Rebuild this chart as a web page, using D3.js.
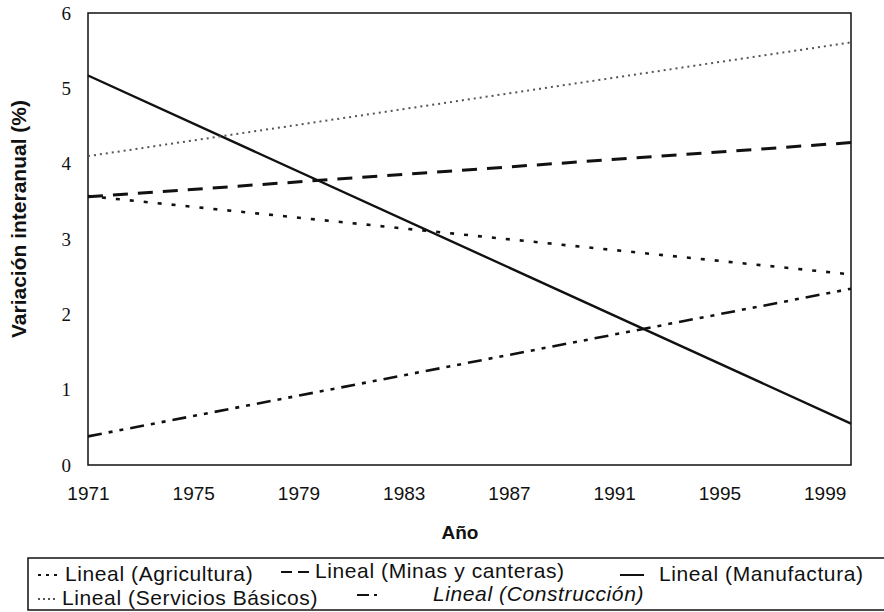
<!DOCTYPE html>
<html>
<head>
<meta charset="utf-8">
<script src="https://cdn.jsdelivr.net/npm/d3@7"></script>
<style>
  body { margin: 0; background: #fff; }
  svg { display: block; }
</style>
</head>
<body>
<div id="chart"></div>
<script>
// trend lines (linear fits), value at the first and last year
var years = [1971, 2000];
var agricultura = [3.57, 2.53];
var minas = [3.56, 4.28];
var manufactura = [5.17, 0.55];
var servicios = [4.10, 5.61];
var construccion = [0.38, 2.34];

var tickYears = [1971, 1975, 1979, 1983, 1987, 1991, 1995, 1999];
var tickValues = [0, 1, 2, 3, 4, 5, 6];

var series = [
  { name: "Lineal (Agricultura)", values: agricultura, dash: "4,10", width: 2.6, color: "#111" },
  { name: "Lineal (Minas y canteras)", values: minas, dash: "15,10", width: 3, color: "#111" },
  { name: "Lineal (Manufactura)", values: manufactura, dash: null, width: 2.4, color: "#111" },
  { name: "Lineal (Servicios Básicos)", values: servicios, dash: "2,4", width: 2, color: "#555" },
  { name: "Lineal (Construcción)", values: construccion, dash: "14,7,4,7,4,7", width: 2.6, color: "#111" }
];

var width = 884, height = 612;
var plot = { left: 88, right: 851, top: 13, bottom: 465 };

var svg = d3.select("#chart").append("svg")
    .attr("width", width)
    .attr("height", height);

var x = d3.scaleLinear().domain([1971, 2000]).range([plot.left, plot.right]);
var y = d3.scaleLinear().domain([0, 6]).range([plot.bottom, plot.top]);

// frame
svg.append("rect")
    .attr("x", plot.left)
    .attr("y", plot.top)
    .attr("width", plot.right - plot.left)
    .attr("height", plot.bottom - plot.top)
    .attr("fill", "none")
    .attr("stroke", "#111")
    .attr("stroke-width", 1.5);

// y axis
var yAxis = svg.append("g")
    .attr("transform", "translate(" + plot.left + ",0)")
    .call(d3.axisLeft(y).tickValues(tickValues).tickSize(0).tickPadding(17).tickFormat(d3.format("d")));
yAxis.select(".domain").remove();
yAxis.selectAll("text")
    .attr("font-family", "'Liberation Serif', 'Times New Roman', serif")
    .attr("font-size", 19)
    .attr("fill", "#111");

// x axis
var xAxis = svg.append("g")
    .attr("transform", "translate(0," + plot.bottom + ")")
    .call(d3.axisBottom(x).tickValues(tickYears).tickSize(0).tickPadding(22).tickFormat(d3.format("d")));
xAxis.select(".domain").remove();
xAxis.selectAll("text")
    .attr("font-family", "'Liberation Sans', Arial, sans-serif")
    .attr("font-size", 19)
    .attr("fill", "#111");

// axis titles
svg.append("text")
    .attr("transform", "translate(26,219) rotate(-90)")
    .attr("text-anchor", "middle")
    .attr("font-family", "'Liberation Sans', Arial, sans-serif")
    .attr("font-weight", "bold")
    .attr("font-size", 21)
    .attr("fill", "#111")
    .text("Variación interanual (%)");

svg.append("text")
    .attr("x", 460)
    .attr("y", 539)
    .attr("text-anchor", "middle")
    .attr("font-family", "'Liberation Sans', Arial, sans-serif")
    .attr("font-weight", "bold")
    .attr("font-size", 19)
    .attr("fill", "#111")
    .text("Año");

// lines
var line = d3.line()
    .x(function(d) { return x(d[0]); })
    .y(function(d) { return y(d[1]); });

svg.selectAll("path.trend")
    .data(series)
    .enter()
    .append("path")
    .attr("class", "trend")
    .attr("d", function(d) { return line(years.map(function(yr, i) { return [yr, d.values[i]]; })); })
    .attr("fill", "none")
    .attr("stroke", function(d) { return d.color; })
    .attr("stroke-width", function(d) { return d.width; })
    .attr("stroke-dasharray", function(d) { return d.dash; });

// legend
var legendPos = [
  { x1: 38, x2: 58, tx: 65, ty: 581, italic: false },
  { x1: 281, x2: 311, tx: 315, ty: 578, italic: false },
  { x1: 620, x2: 644, tx: 659, ty: 581, italic: false },
  { x1: 38, x2: 58, tx: 62, ty: 605, italic: false },
  { x1: 357, x2: 381, tx: 433, ty: 601, italic: true }
];
var legendDash = ["3,5", "11,6", null, "2,3", "12,5,3,5"];

svg.append("rect")
    .attr("x", 28)
    .attr("y", 558)
    .attr("width", 900)
    .attr("height", 52)
    .attr("fill", "none")
    .attr("stroke", "#111")
    .attr("stroke-width", 1.5);

var legend = svg.selectAll("g.leg")
    .data(series)
    .enter()
    .append("g")
    .attr("class", "leg");

legend.append("line")
    .attr("x1", function(d, i) { return legendPos[i].x1; })
    .attr("x2", function(d, i) { return legendPos[i].x2; })
    .attr("y1", function(d, i) { return legendPos[i].ty - 6; })
    .attr("y2", function(d, i) { return legendPos[i].ty - 6; })
    .attr("stroke", function(d) { return d.color; })
    .attr("stroke-width", function(d) { return Math.min(d.width, 2); })
    .attr("stroke-dasharray", function(d, i) { return legendDash[i]; });

legend.append("text")
    .attr("x", function(d, i) { return legendPos[i].tx; })
    .attr("y", function(d, i) { return legendPos[i].ty; })
    .attr("font-family", "'Liberation Sans', Arial, sans-serif")
    .attr("font-size", 21)
    .attr("letter-spacing", 0.6)
    .attr("font-style", function(d, i) { return legendPos[i].italic ? "italic" : "normal"; })
    .attr("fill", "#111")
    .text(function(d) { return d.name; });
</script>
</body>
</html>
